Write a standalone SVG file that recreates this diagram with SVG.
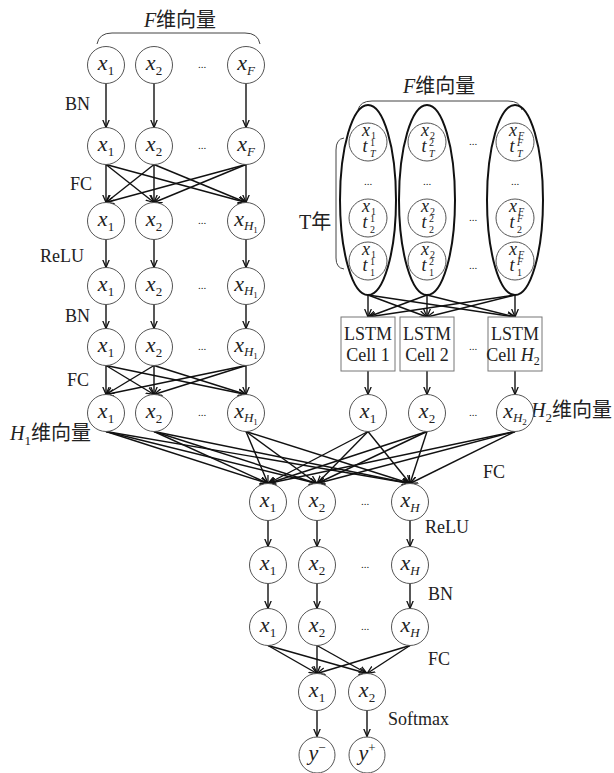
<svg xmlns="http://www.w3.org/2000/svg" width="614" height="773" viewBox="0 0 614 773">
<style>
text{font-family:"Liberation Serif","Noto Sans CJK SC",serif;fill:#222}
.n circle{fill:#fff;stroke:#555;stroke-width:1}
.v{font-style:italic;font-size:22px;text-anchor:middle}
.s{font-style:normal;font-size:13px}
.si{font-style:italic;font-size:13px}
.ss{font-style:normal;font-size:9px}
.lbl{font-size:18px}
.cjk{font-size:20px}
.d{font-size:11px;text-anchor:middle}
.e line{stroke:#111;stroke-width:1.4;marker-end:url(#a)}
.br{fill:none;stroke:#444;stroke-width:1}
.el{fill:none;stroke:#111;stroke-width:2}
.box rect{fill:#fff;stroke:#777;stroke-width:1}
.bt{font-size:18px;text-anchor:middle}
.iv{font-style:italic;font-size:18px;text-anchor:middle}
.is{font-size:10px}
</style>
<defs>
<marker id="a" viewBox="0 0 10 10" refX="10" refY="5" markerWidth="8" markerHeight="8" markerUnits="userSpaceOnUse" orient="auto"><path d="M0,0.8 L10,5 L0,9.2" fill="none" stroke="#111" stroke-width="1.6"/></marker>
</defs>
<rect width="614" height="773" fill="#fff"/>

<!-- labels -->
<g id="labels">
<text class="cjk" x="180" y="27" text-anchor="middle"><tspan font-style="italic">F</tspan>维向量</text>
<path class="br" d="M97,44 Q99,33 112,33 L245,33 Q258,33 260,44"/>
<text class="cjk" x="403" y="93"><tspan font-style="italic">F</tspan>维向量</text>
<path class="br" d="M358,110 Q360,101 372,101 L508,101 Q520,101 522,110"/>
<text class="cjk" x="299" y="229">T年</text>
<path class="br" d="M344,138 Q336,139 336,150 L336,258 Q336,268 344,269"/>
<text class="lbl" x="65" y="110">BN</text>
<text class="lbl" x="70" y="190">FC</text>
<text class="lbl" x="40" y="262">ReLU</text>
<text class="lbl" x="65" y="322">BN</text>
<text class="lbl" x="67" y="386">FC</text>
<text class="cjk" x="10" y="440"><tspan font-style="italic">H</tspan><tspan font-size="13" dy="5">1</tspan><tspan dy="-5">维向量</tspan></text>
<text class="cjk" x="531" y="417"><tspan font-style="italic">H</tspan><tspan font-size="13" dy="5">2</tspan><tspan dy="-5">维向量</tspan></text>
<text class="lbl" x="483" y="478">FC</text>
<text class="lbl" x="425" y="533">ReLU</text>
<text class="lbl" x="428" y="600">BN</text>
<text class="lbl" x="428" y="665">FC</text>
<text class="lbl" x="388" y="725">Softmax</text>
</g>

<!-- connectors -->
<g id="connectors" class="e">
<line x1="106" y1="83.5" x2="106" y2="127.5"/>
<line x1="154" y1="83.5" x2="154" y2="127.5"/>
<line x1="246" y1="83.5" x2="246" y2="127.5"/>

<line x1="106" y1="164.5" x2="106" y2="202.5"/>
<line x1="106" y1="164.5" x2="154" y2="202.5"/>
<line x1="106" y1="164.5" x2="246" y2="202.5"/>
<line x1="154" y1="164.5" x2="106" y2="202.5"/>
<line x1="154" y1="164.5" x2="154" y2="202.5"/>
<line x1="154" y1="164.5" x2="246" y2="202.5"/>
<line x1="246" y1="164.5" x2="106" y2="202.5"/>
<line x1="246" y1="164.5" x2="154" y2="202.5"/>
<line x1="246" y1="164.5" x2="246" y2="202.5"/>

<line x1="106" y1="239.5" x2="106" y2="267.5"/>
<line x1="154" y1="239.5" x2="154" y2="267.5"/>
<line x1="246" y1="239.5" x2="246" y2="267.5"/>

<line x1="106" y1="304.5" x2="106" y2="328.5"/>
<line x1="154" y1="304.5" x2="154" y2="328.5"/>
<line x1="246" y1="304.5" x2="246" y2="328.5"/>

<line x1="106" y1="365.5" x2="106" y2="394.5"/>
<line x1="106" y1="365.5" x2="154" y2="394.5"/>
<line x1="106" y1="365.5" x2="246" y2="394.5"/>
<line x1="154" y1="365.5" x2="106" y2="394.5"/>
<line x1="154" y1="365.5" x2="154" y2="394.5"/>
<line x1="154" y1="365.5" x2="246" y2="394.5"/>
<line x1="246" y1="365.5" x2="106" y2="394.5"/>
<line x1="246" y1="365.5" x2="154" y2="394.5"/>
<line x1="246" y1="365.5" x2="246" y2="394.5"/>

<line x1="368" y1="295" x2="368" y2="317"/>
<line x1="368" y1="295" x2="427" y2="317"/>
<line x1="368" y1="295" x2="515" y2="317"/>
<line x1="427" y1="295" x2="368" y2="317"/>
<line x1="427" y1="295" x2="427" y2="317"/>
<line x1="427" y1="295" x2="515" y2="317"/>
<line x1="515" y1="295" x2="368" y2="317"/>
<line x1="515" y1="295" x2="427" y2="317"/>
<line x1="515" y1="295" x2="515" y2="317"/>

<line x1="368" y1="371" x2="368" y2="394.5"/>
<line x1="427" y1="371" x2="427" y2="394.5"/>
<line x1="515" y1="371" x2="515" y2="394.5"/>

<line x1="106" y1="431.5" x2="268" y2="483.5"/>
<line x1="106" y1="431.5" x2="317" y2="483.5"/>
<line x1="106" y1="431.5" x2="410" y2="483.5"/>
<line x1="154" y1="431.5" x2="268" y2="483.5"/>
<line x1="154" y1="431.5" x2="317" y2="483.5"/>
<line x1="154" y1="431.5" x2="410" y2="483.5"/>
<line x1="246" y1="431.5" x2="268" y2="483.5"/>
<line x1="246" y1="431.5" x2="317" y2="483.5"/>
<line x1="246" y1="431.5" x2="410" y2="483.5"/>
<line x1="368" y1="431.5" x2="268" y2="483.5"/>
<line x1="368" y1="431.5" x2="317" y2="483.5"/>
<line x1="368" y1="431.5" x2="410" y2="483.5"/>
<line x1="427" y1="431.5" x2="268" y2="483.5"/>
<line x1="427" y1="431.5" x2="317" y2="483.5"/>
<line x1="427" y1="431.5" x2="410" y2="483.5"/>
<line x1="515" y1="431.5" x2="268" y2="483.5"/>
<line x1="515" y1="431.5" x2="317" y2="483.5"/>
<line x1="515" y1="431.5" x2="410" y2="483.5"/>

<line x1="268" y1="520.5" x2="268" y2="546.5"/>
<line x1="317" y1="520.5" x2="317" y2="546.5"/>
<line x1="410" y1="520.5" x2="410" y2="546.5"/>

<line x1="268" y1="583.5" x2="268" y2="608.5"/>
<line x1="317" y1="583.5" x2="317" y2="608.5"/>
<line x1="410" y1="583.5" x2="410" y2="608.5"/>

<line x1="268" y1="645.5" x2="317" y2="673.5"/>
<line x1="268" y1="645.5" x2="367" y2="673.5"/>
<line x1="317" y1="645.5" x2="317" y2="673.5"/>
<line x1="317" y1="645.5" x2="367" y2="673.5"/>
<line x1="410" y1="645.5" x2="317" y2="673.5"/>
<line x1="410" y1="645.5" x2="367" y2="673.5"/>

<line x1="317" y1="710.5" x2="317" y2="736.5"/>
<line x1="367" y1="710.5" x2="367" y2="736.5"/>
</g>

<!-- left column nodes -->
<g id="in1" class="n"><circle cx="106" cy="65" r="18.5"/><text class="v" x="106" y="70">x<tspan class="s" dy="4.5">1</tspan></text></g>
<g id="in2" class="n"><circle cx="154" cy="65" r="18.5"/><text class="v" x="154" y="70">x<tspan class="s" dy="4.5">2</tspan></text></g>
<g id="inF" class="n"><circle cx="246" cy="65" r="18.5"/><text class="v" x="246" y="70">x<tspan class="si" dy="4.5">F</tspan></text></g>
<text class="d" x="202" y="68">...</text>

<g id="bn1" class="n"><circle cx="106" cy="146" r="18.5"/><text class="v" x="106" y="151">x<tspan class="s" dy="4.5">1</tspan></text></g>
<g id="bn2" class="n"><circle cx="154" cy="146" r="18.5"/><text class="v" x="154" y="151">x<tspan class="s" dy="4.5">2</tspan></text></g>
<g id="bnF" class="n"><circle cx="246" cy="146" r="18.5"/><text class="v" x="246" y="151">x<tspan class="si" dy="4.5">F</tspan></text></g>
<text class="d" x="202" y="149">...</text>

<g id="fc1" class="n"><circle cx="106" cy="221" r="18.5"/><text class="v" x="106" y="226">x<tspan class="s" dy="4.5">1</tspan></text></g>
<g id="fc2" class="n"><circle cx="154" cy="221" r="18.5"/><text class="v" x="154" y="226">x<tspan class="s" dy="4.5">2</tspan></text></g>
<g id="fcH" class="n"><circle cx="246" cy="221" r="18.5"/><text class="v" x="246" y="226">x<tspan class="si" dy="4">H</tspan><tspan class="ss" dy="3">1</tspan></text></g>
<text class="d" x="202" y="224">...</text>

<g id="re1" class="n"><circle cx="106" cy="286" r="18.5"/><text class="v" x="106" y="291">x<tspan class="s" dy="4.5">1</tspan></text></g>
<g id="re2" class="n"><circle cx="154" cy="286" r="18.5"/><text class="v" x="154" y="291">x<tspan class="s" dy="4.5">2</tspan></text></g>
<g id="reH" class="n"><circle cx="246" cy="286" r="18.5"/><text class="v" x="246" y="291">x<tspan class="si" dy="4">H</tspan><tspan class="ss" dy="3">1</tspan></text></g>
<text class="d" x="202" y="289">...</text>

<g id="bb1" class="n"><circle cx="106" cy="347" r="18.5"/><text class="v" x="106" y="352">x<tspan class="s" dy="4.5">1</tspan></text></g>
<g id="bb2" class="n"><circle cx="154" cy="347" r="18.5"/><text class="v" x="154" y="352">x<tspan class="s" dy="4.5">2</tspan></text></g>
<g id="bbH" class="n"><circle cx="246" cy="347" r="18.5"/><text class="v" x="246" y="352">x<tspan class="si" dy="4">H</tspan><tspan class="ss" dy="3">1</tspan></text></g>
<text class="d" x="202" y="350">...</text>

<g id="h1" class="n"><circle cx="106" cy="413" r="18.5"/><text class="v" x="106" y="418">x<tspan class="s" dy="4.5">1</tspan></text></g>
<g id="h2" class="n"><circle cx="154" cy="413" r="18.5"/><text class="v" x="154" y="418">x<tspan class="s" dy="4.5">2</tspan></text></g>
<g id="hH" class="n"><circle cx="246" cy="413" r="18.5"/><text class="v" x="246" y="418">x<tspan class="si" dy="4">H</tspan><tspan class="ss" dy="3">1</tspan></text></g>
<text class="d" x="202" y="416">...</text>

<!-- right: time series ellipses -->
<g id="seq1">
<ellipse class="el" cx="368" cy="200" rx="28" ry="95"/>
<g id="s1T" class="n"><circle cx="368" cy="142" r="19"/><text class="iv" x="366" y="136">x</text><text class="is" x="371" y="139">1</text><text class="iv" x="365" y="152">t</text><text class="is" x="370" y="146">1</text><text class="is" x="370" y="157" font-style="italic">T</text></g>
<text class="d" x="368" y="185">...</text>
<g id="s12" class="n"><circle cx="368" cy="218" r="19"/><text class="iv" x="366" y="212">x</text><text class="is" x="371" y="215">1</text><text class="iv" x="365" y="228">t</text><text class="is" x="370" y="222">1</text><text class="is" x="370" y="233">2</text></g>
<g id="s11" class="n"><circle cx="368" cy="261" r="19"/><text class="iv" x="366" y="255">x</text><text class="is" x="371" y="258">1</text><text class="iv" x="365" y="271">t</text><text class="is" x="370" y="265">1</text><text class="is" x="370" y="276">1</text></g>
</g>
<g id="seq2">
<ellipse class="el" cx="427" cy="200" rx="28" ry="95"/>
<g id="s2T" class="n"><circle cx="427" cy="142" r="19"/><text class="iv" x="425" y="136">x</text><text class="is" x="430" y="139">2</text><text class="iv" x="424" y="152">t</text><text class="is" x="429" y="146">2</text><text class="is" x="429" y="157" font-style="italic">T</text></g>
<text class="d" x="427" y="185">...</text>
<g id="s22" class="n"><circle cx="427" cy="218" r="19"/><text class="iv" x="425" y="212">x</text><text class="is" x="430" y="215">2</text><text class="iv" x="424" y="228">t</text><text class="is" x="429" y="222">2</text><text class="is" x="429" y="233">2</text></g>
<g id="s21" class="n"><circle cx="427" cy="261" r="19"/><text class="iv" x="425" y="255">x</text><text class="is" x="430" y="258">2</text><text class="iv" x="424" y="271">t</text><text class="is" x="429" y="265">2</text><text class="is" x="429" y="276">1</text></g>
</g>
<g id="seqF">
<ellipse class="el" cx="515" cy="200" rx="28" ry="95"/>
<g id="sFT" class="n"><circle cx="515" cy="142" r="19"/><text class="iv" x="513" y="136">x</text><text class="is" x="518" y="139" font-style="italic">F</text><text class="iv" x="512" y="152">t</text><text class="is" x="517" y="146" font-style="italic">F</text><text class="is" x="517" y="157" font-style="italic">T</text></g>
<text class="d" x="515" y="185">...</text>
<g id="sF2" class="n"><circle cx="515" cy="218" r="19"/><text class="iv" x="513" y="212">x</text><text class="is" x="518" y="215" font-style="italic">F</text><text class="iv" x="512" y="228">t</text><text class="is" x="517" y="222" font-style="italic">F</text><text class="is" x="517" y="233">2</text></g>
<g id="sF1" class="n"><circle cx="515" cy="261" r="19"/><text class="iv" x="513" y="255">x</text><text class="is" x="518" y="258" font-style="italic">F</text><text class="iv" x="512" y="271">t</text><text class="is" x="517" y="265" font-style="italic">F</text><text class="is" x="517" y="276">1</text></g>
</g>
<text class="d" x="473" y="145">...</text>
<text class="d" x="473" y="221">...</text>
<text class="d" x="473" y="269">...</text>

<!-- LSTM cells -->
<g id="lstm1" class="box"><rect x="341" y="317" width="54" height="54"/><text class="bt" x="368" y="340">LSTM</text><text class="bt" x="368" y="361">Cell 1</text></g>
<g id="lstm2" class="box"><rect x="400" y="317" width="54" height="54"/><text class="bt" x="427" y="340">LSTM</text><text class="bt" x="427" y="361">Cell 2</text></g>
<g id="lstmH" class="box"><rect x="488" y="317" width="54" height="54"/><text class="bt" x="515" y="340">LSTM</text><text class="bt" x="513" y="361">Cell <tspan font-style="italic">H</tspan><tspan font-size="12" dy="4">2</tspan></text></g>
<text class="d" x="473" y="350">...</text>

<g id="r1" class="n"><circle cx="368" cy="413" r="18.5"/><text class="v" x="368" y="418">x<tspan class="s" dy="4.5">1</tspan></text></g>
<g id="r2" class="n"><circle cx="427" cy="413" r="18.5"/><text class="v" x="427" y="418">x<tspan class="s" dy="4.5">2</tspan></text></g>
<g id="rH" class="n"><circle cx="515" cy="413" r="18.5"/><text class="v" x="515" y="418">x<tspan class="si" dy="4">H</tspan><tspan class="ss" dy="3">2</tspan></text></g>
<text class="d" x="473" y="416">...</text>

<!-- merged layers -->
<g id="m1" class="n"><circle cx="268" cy="502" r="18.5"/><text class="v" x="268" y="507">x<tspan class="s" dy="4.5">1</tspan></text></g>
<g id="m2" class="n"><circle cx="317" cy="502" r="18.5"/><text class="v" x="317" y="507">x<tspan class="s" dy="4.5">2</tspan></text></g>
<g id="mH" class="n"><circle cx="410" cy="502" r="18.5"/><text class="v" x="410" y="507">x<tspan class="si" dy="4.5">H</tspan></text></g>
<text class="d" x="365" y="505">...</text>

<g id="mr1" class="n"><circle cx="268" cy="565" r="18.5"/><text class="v" x="268" y="570">x<tspan class="s" dy="4.5">1</tspan></text></g>
<g id="mr2" class="n"><circle cx="317" cy="565" r="18.5"/><text class="v" x="317" y="570">x<tspan class="s" dy="4.5">2</tspan></text></g>
<g id="mrH" class="n"><circle cx="410" cy="565" r="18.5"/><text class="v" x="410" y="570">x<tspan class="si" dy="4.5">H</tspan></text></g>
<text class="d" x="365" y="568">...</text>

<g id="mb1" class="n"><circle cx="268" cy="627" r="18.5"/><text class="v" x="268" y="632">x<tspan class="s" dy="4.5">1</tspan></text></g>
<g id="mb2" class="n"><circle cx="317" cy="627" r="18.5"/><text class="v" x="317" y="632">x<tspan class="s" dy="4.5">2</tspan></text></g>
<g id="mbH" class="n"><circle cx="410" cy="627" r="18.5"/><text class="v" x="410" y="632">x<tspan class="si" dy="4.5">H</tspan></text></g>
<text class="d" x="365" y="630">...</text>

<g id="o1" class="n"><circle cx="317" cy="692" r="18.5"/><text class="v" x="317" y="697">x<tspan class="s" dy="4.5">1</tspan></text></g>
<g id="o2" class="n"><circle cx="367" cy="692" r="18.5"/><text class="v" x="367" y="697">x<tspan class="s" dy="4.5">2</tspan></text></g>

<g id="yneg" class="n"><circle cx="317" cy="755" r="18"/><text class="v" x="317" y="760">y<tspan class="s" dy="-8">−</tspan></text></g>
<g id="ypos" class="n"><circle cx="367" cy="755" r="18"/><text class="v" x="367" y="760">y<tspan class="s" dy="-8">+</tspan></text></g>
</svg>
